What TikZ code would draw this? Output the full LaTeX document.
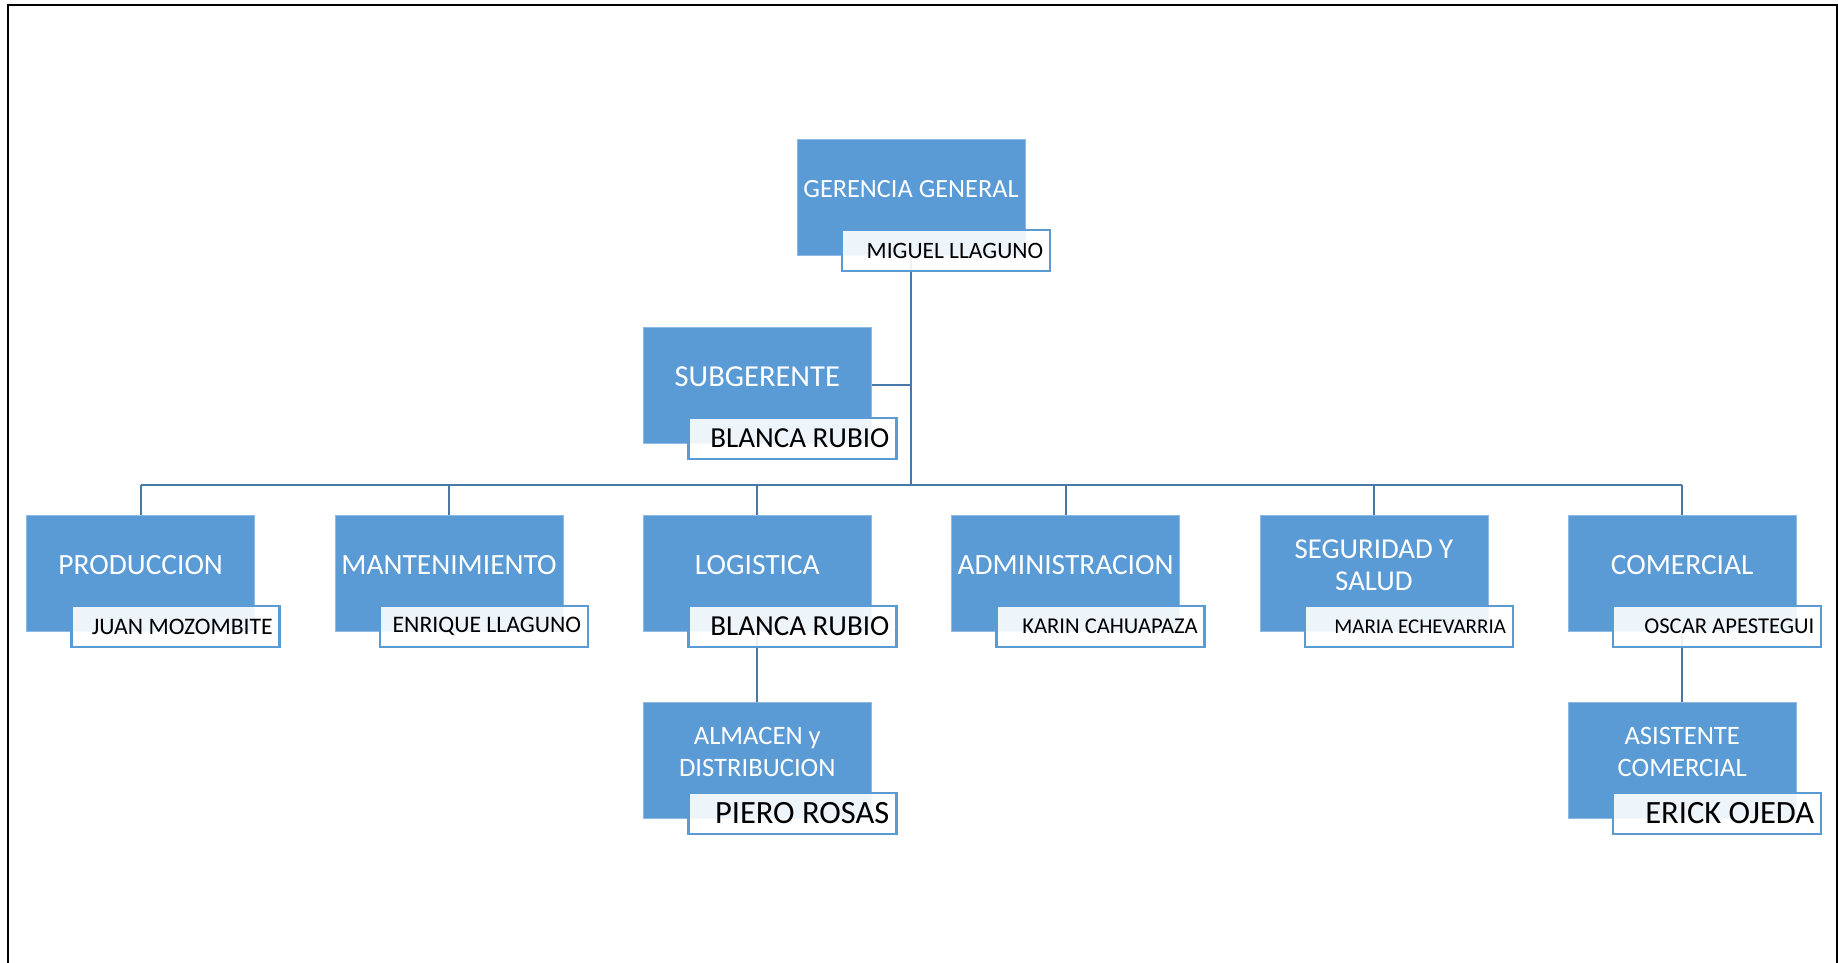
\documentclass[tikz,border=0pt]{standalone}
\usepackage{fontspec}
\setmainfont{Carlito}
\pgfdeclarelayer{background}
\pgfsetlayers{background,main}

\definecolor{unitblue}{RGB}{91,155,213}
\definecolor{unitedge}{RGB}{141,185,226}
\definecolor{linkblue}{RGB}{70,120,170}

\tikzset{
  unitbox/.style={draw=unitedge, line width=0.8pt, fill=unitblue,
    minimum width=228pt, minimum height=116pt, inner sep=0pt},
  unittitle/.style={text=white, align=center, inner sep=0pt},
  namebox/.style={draw=unitblue, line width=2.5pt, fill=white, fill opacity=0.9,
    minimum width=208pt, minimum height=41pt, inner sep=0pt},
  nametext/.style={text=black, anchor=east, xshift=-8pt, inner sep=0pt},
  link/.style={draw=linkblue, line width=2.2pt, line join=miter},
  frame/.style={draw=black, line width=2pt}
}

% #1 node prefix, #2 centre x, #3 top y, #4 title size, #5 title,
% #6 person size, #7 person
\newcommand{\orgunit}[7]{%
  \node[unitbox] (#1-box) at (#2,#3+58) {};
  \node[unittitle, font=\fontsize{#4}{32.2}\selectfont] (#1-title) at (#2,#3+50) {#5};
  \node[namebox] (#1-name) at (#2+35,#3+111.5) {};
  \node[nametext, font=\fontsize{#6}{#6}\selectfont] (#1-person) at (#1-name.east) {#7};
}

\begin{document}
\begin{tikzpicture}[x=1pt, y=-1pt]
  \useasboundingbox (0,0) rectangle (1838,963);

  % page frame (open at the bottom)
  \draw[frame] (7.5,963) -- (7.5,5) -- (1836.5,5) -- (1836.5,963);

  % top management
  \orgunit{ger}{911}{139}{26.3}{GERENCIA GENERAL}{23.5}{MIGUEL LLAGUNO}
  \orgunit{sub}{757.3}{327}{30.5}{SUBGERENTE}{29}{BLANCA RUBIO}

  % departments
  \orgunit{prod}{140.7}{515}{29.4}{PRODUCCION}{23.7}{JUAN MOZOMBITE}
  \orgunit{mant}{449}{515}{29.4}{MANTENIMIENTO}{23.7}{ENRIQUE LLAGUNO}
  \orgunit{log}{757.3}{515}{29.4}{LOGISTICA}{29}{BLANCA RUBIO}
  \orgunit{adm}{1065.6}{515}{29.4}{ADMINISTRACION}{22.6}{KARIN CAHUAPAZA}
  \orgunit{seg}{1373.9}{515}{28.8}{SEGURIDAD Y\\SALUD}{21}{MARIA ECHEVARRIA}
  \orgunit{com}{1682.2}{515}{29.4}{COMERCIAL}{22.6}{OSCAR APESTEGUI}

  % sections
  \orgunit{alm}{757.3}{702}{26.6}{ALMACEN y\\DISTRIBUCION}{32.5}{PIERO ROSAS}
  \orgunit{asi}{1682.2}{702}{26.6}{ASISTENTE\\COMERCIAL}{32.5}{ERICK OJEDA}

  % connectors
  \coordinate (bus) at (0,485);
  \begin{pgfonlayer}{background}
    \draw[link] (ger-box.south) -- (ger-box.south |- bus);
    \draw[link] (sub-box.east) -- (sub-box.east -| ger-box.south);
    \draw[link] (prod-box.north |- bus) -- (com-box.north |- bus);
    \foreach \u in {prod,mant,log,adm,seg,com}
      \draw[link] (\u-box.north |- bus) -- (\u-box.north);
    \draw[link] (log-box.south) -- (alm-box.north);
    \draw[link] (com-box.south) -- (asi-box.north);
  \end{pgfonlayer}
\end{tikzpicture}
\end{document}
